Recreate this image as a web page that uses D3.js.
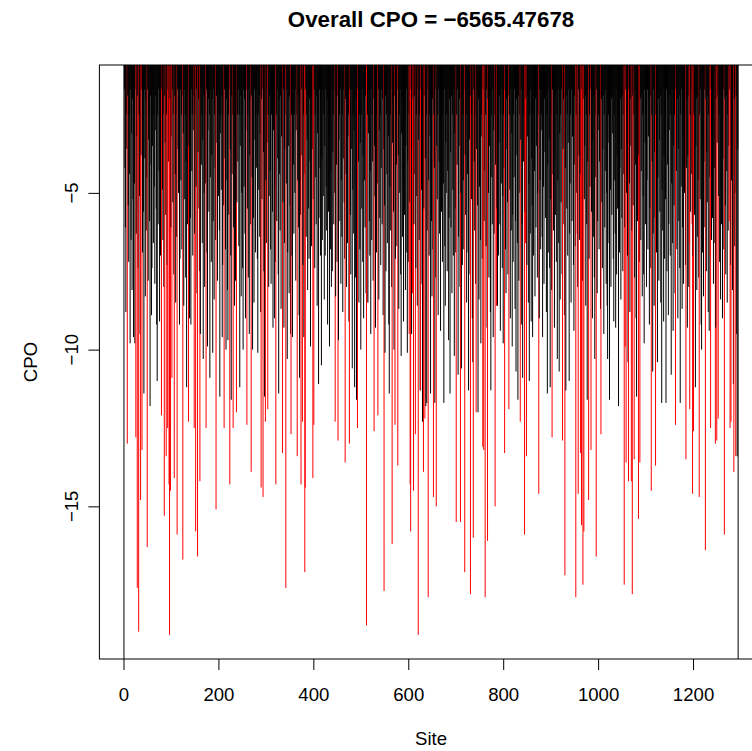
<!DOCTYPE html>
<html>
<head>
<meta charset="utf-8">
<script src="https://cdn.jsdelivr.net/npm/d3@7"></script>
<style>
body { margin: 0; background: #fff; }
text { font-family: "Liberation Sans", Arial, sans-serif; }
</style>
</head>
<body>
<div id="chart"></div>
<script>
// per-site log CPO, site 1 .. 1295 (20 sites per row)
var cpo = [
-Infinity,-1.7,-4.2,-6.1,-8.8,-2.5,-3.6,-13.0,-1.9,-5.4,-7.2,-2.5,-4.4,-9.8,-1.7,-6.5,-3.1,-8.1,-2.0,-5.2,
-9.6,-2.5,-4.7,-9.8,-1.7,-12.8,-6.3,-3.2,-17.6,-1.9,-7.4,-19.0,-2.5,-5.1,-9.5,-14.8,-3.8,-1.7,-13.2,-6.9,
-2.5,-5.6,-11.4,-1.7,-3.9,-8.3,-2.0,-6.2,-4.5,-16.3,-1.7,-7.8,-3.3,-2.5,-5.9,-11.8,-1.9,-4.1,-8.9,-7.4,
-3.5,-1.7,-6.6,-2.5,-4.8,-7.9,-1.9,-3.0,-5.5,-9.2,-11.0,-2.5,-6.0,-1.7,-4.3,-9.1,-2.0,-7.0,-3.7,-12.1,
-1.7,-4.9,-6.5,-2.5,-8.0,-15.3,-1.9,-3.4,-5.7,-13.4,-2.5,-7.3,-12.5,-1.7,-4.0,-14.3,-19.1,-2.0,-14.5,-6.1,
-3.2,-10.9,-1.7,-5.3,-2.5,-7.6,-14.1,-1.9,-4.4,-8.5,-2.5,-6.4,-15.9,-1.7,-3.6,-5.0,-2.0,-9.2,-7.1,-1.7,
-4.6,-2.5,-6.8,-1.9,-16.7,-3.1,-8.6,-1.7,-5.2,-2.5,-7.7,-4.0,-11.2,-1.7,-6.0,-2.0,-12.3,-3.5,-9.0,-2.5,
-5.8,-9.2,-1.7,-4.3,-2.5,-7.0,-3.0,-1.9,-12.5,-6.3,-2.5,-15.8,-4.8,-1.7,-8.2,-16.6,-3.7,-2.0,-5.5,-7.5,
-14.2,-9.5,-1.7,-4.1,-2.5,-6.6,-3.3,-10.3,-1.9,-5.0,-8.0,-2.5,-4.7,-12.5,-1.7,-6.9,-9.9,-3.0,-2.0,-5.6,
-2.5,-10.9,-4.5,-1.7,-7.2,-3.8,-2.0,-10.1,-5.9,-1.7,-8.4,-2.5,-4.2,-6.5,-15.1,-1.9,-3.4,-7.8,-2.5,-5.1,
-1.7,-6.2,-11.5,-3.1,-2.5,-4.9,-1.9,-9.6,-7.3,-2.5,-5.4,-12.5,-1.7,-3.9,-6.8,-10.0,-2.0,-4.6,-8.1,-9.7,
-2.5,-5.7,-1.7,-14.3,-3.6,-7.0,-11.6,-1.9,-4.4,-2.5,-12.5,-6.1,-1.7,-8.6,-3.2,-7.8,-2.0,-12.0,-5.3,-2.5,
-4.0,-1.7,-6.7,-2.5,-11.2,-3.5,-1.9,-8.3,-5.0,-2.5,-7.4,-10.0,-1.7,-4.8,-2.0,-6.3,-9.0,-3.0,-1.7,-12.4,
-5.5,-2.5,-7.7,-1.7,-9.5,-3.8,-2.0,-6.0,-13.9,-1.9,-4.5,-10.0,-2.5,-5.8,-8.5,-1.7,-3.3,-6.9,-2.5,-4.2,
-1.7,-7.1,-10.1,-2.5,-4.9,-1.9,-6.4,-3.1,-8.8,-14.4,-2.0,-5.2,-1.7,-14.7,-3.7,-7.5,-11.5,-2.5,-12.3,-4.6,
-6.6,-1.7,-3.4,-11.9,-2.5,-8.0,-5.1,-1.9,-4.3,-6.8,-7.9,-2.5,-1.7,-5.6,-9.3,-3.0,-2.0,-9.0,-4.8,-7.2,
-14.3,-2.5,-5.9,-1.7,-3.9,-7.6,-11.4,-2.0,-4.4,-6.2,-1.9,-8.7,-3.2,-2.5,-13.3,-5.3,-1.7,-9.3,-6.6,-3.6,
-2.5,-17.6,-4.7,-1.7,-10.3,-6.9,-2.0,-3.5,-8.2,-1.9,-5.4,-9.5,-12.7,-2.5,-7.0,-9.6,-1.7,-4.1,-6.3,-2.5,
-5.0,-1.7,-7.8,-3.0,-2.5,-13.4,-4.6,-1.9,-6.1,-8.9,-10.9,-2.0,-5.7,-14.3,-1.7,-3.8,-12.3,-7.3,-2.5,-9.6,
-4.4,-17.1,-14.4,-1.7,-6.4,-2.5,-3.3,-8.1,-1.9,-5.5,-7.1,-2.0,-4.0,-9.9,-1.7,-6.7,-2.5,-3.6,-14.1,-5.2,
-12.4,-1.7,-7.4,-2.5,-4.5,-6.0,-1.9,-8.6,-3.1,-2.5,-11.1,-5.8,-1.7,-4.2,-7.0,-2.0,-10.5,-3.9,-6.5,-1.7,
-5.1,-2.5,-8.4,-3.5,-7.0,-1.7,-4.8,-6.2,-2.0,-9.2,-1.9,-5.6,-3.0,-9.9,-2.5,-6.8,-4.3,-8.0,-1.7,-7.5,
-3.7,-2.5,-6.0,-1.7,-5.0,-12.3,-8.3,-2.0,-4.1,-7.2,-1.9,-12.9,-9.7,-3.3,-2.5,-5.9,-1.7,-7.9,-4.6,-6.4,
-2.5,-8.8,-3.9,-1.7,-5.3,-7.1,-13.6,-2.0,-4.4,-8.0,-1.9,-6.6,-3.2,-2.5,-9.1,-13.0,-1.7,-5.7,-7.6,-3.6,
-1.7,-10.6,-4.9,-2.5,-6.3,-3.0,-11.2,-1.9,-7.7,-2.0,-11.6,-5.2,-12.5,-1.7,-4.0,-8.5,-2.5,-6.8,-3.4,-10.0,
-2.5,-5.5,-1.7,-7.2,-3.8,-9.0,-2.0,-4.6,-6.1,-1.9,-8.2,-18.8,-8.5,-2.5,-8.5,-3.1,-1.7,-5.9,-7.0,-4.3,
-9.5,-1.7,-6.5,-2.5,-4.0,-7.8,-2.0,-12.6,-3.5,-5.1,-9.3,-1.9,-6.9,-2.5,-4.7,-12.1,-1.7,-8.4,-3.0,-5.8,
-2.5,-7.3,-4.2,-1.7,-6.0,-2.0,-8.9,-3.6,-17.7,-5.4,-10.1,-1.9,-7.5,-2.5,-4.4,-6.6,-1.7,-3.2,-9.2,-11.4,
-4.8,-2.5,-6.2,-1.7,-8.0,-16.2,-3.4,-2.0,-5.6,-10.0,-1.9,-12.4,-7.1,-2.5,-4.1,-6.7,-1.7,-13.7,-3.8,-8.7,
-2.5,-5.0,-1.7,-7.6,-10.2,-3.1,-2.0,-6.4,-4.5,-9.1,-1.9,-5.7,-2.5,-8.1,-3.5,-1.7,-6.9,-10.1,-4.0,-7.2,
-2.5,-9.5,-5.3,-14.3,-15.8,-1.7,-9.5,-3.6,-8.2,-2.0,-14.5,-6.0,-1.9,-4.4,-12.7,-7.4,-2.5,-5.1,-8.6,-1.7,
-19.1,-3.3,-6.5,-2.5,-11.3,-11.3,-1.7,-4.9,-7.9,-12.3,-2.0,-13.9,-5.5,-1.9,-12.2,-3.9,-11.8,-2.5,-11.7,-6.2,
-1.7,-17.9,-4.6,-7.0,-2.5,-3.2,-11.4,-1.9,-5.9,-8.3,-2.0,-6.8,-14.7,-2.5,-4.2,-11.7,-1.7,-7.7,-15.0,-3.5,
-5.2,-2.5,-8.9,-1.7,-4.0,-6.3,-2.0,-9.4,-3.0,-5.6,-1.9,-7.2,-2.5,-4.7,-11.7,-1.7,-6.7,-8.6,-3.4,-5.0,
-2.5,-7.5,-4.3,-1.7,-9.7,-5.8,-2.0,-11.4,-3.7,-6.1,-1.9,-8.2,-2.5,-4.9,-7.0,-1.7,-10.2,-3.1,-5.5,-6.9,
-15.5,-2.5,-4.1,-1.7,-10.8,-6.4,-3.5,-2.0,-8.0,-15.5,-5.0,-10.6,-1.9,-7.3,-2.5,-4.6,-6.8,-1.7,-17.1,-3.8,
-5.7,-2.5,-8.5,-1.7,-4.4,-6.9,-11.3,-2.0,-3.3,-7.6,-17.8,-1.9,-5.2,-2.5,-9.0,-10.4,-16.0,-1.7,-4.0,-6.2,
-2.5,-7.9,-12.0,-3.6,-1.7,-5.4,-12.0,-2.0,-8.4,-4.8,-1.9,-6.5,-9.8,-2.5,-3.2,-7.1,-13.1,-1.7,-13.2,-5.9,
-4.3,-17.9,-2.5,-6.7,-1.7,-9.3,-16.1,-2.0,-5.0,-7.7,-3.5,-1.9,-8.8,-11.3,-2.5,-4.5,-6.0,-1.7,-9.6,-3.0,
-6.3,-2.5,-15.0,-4.1,-1.7,-8.6,-5.5,-8.6,-2.0,-7.0,-3.4,-1.9,-6.0,-9.4,-2.5,-4.7,-1.7,-7.4,-5.1,-9.8,
-2.5,-4.2,-13.3,-1.7,-6.8,-8.2,-2.0,-3.6,-5.3,-7.6,-1.9,-11.9,-2.5,-4.9,-9.0,-1.7,-6.2,-3.1,-9.9,-5.7,
-7.2,-2.5,-4.5,-1.7,-8.7,-5.9,-10.7,-2.0,-3.8,-6.6,-11.6,-1.9,-7.8,-2.5,-5.0,-12.3,-3.3,-1.7,-9.2,-6.0,
-10.9,-2.5,-4.0,-1.7,-15.9,-5.6,-6.6,-2.0,-13.4,-7.3,-3.2,-1.9,-8.5,-4.7,-11.0,-2.5,-6.3,-1.7,-9.1,-3.9,
-5.4,-9.6,-2.5,-7.0,-1.7,-4.3,-8.3,-2.0,-6.1,-3.5,-1.9,-7.7,-5.0,-2.5,-14.6,-9.0,-1.7,-4.6,-6.8,-3.0,
-2.5,-6.4,-9.6,-1.7,-4.8,-7.9,-2.0,-3.7,-5.8,-1.9,-8.8,-2.5,-11.4,-4.1,-6.9,-1.7,-3.3,-7.4,-11.2,-5.2,
-2.5,-8.1,-12.8,-1.7,-4.4,-6.2,-2.0,-9.3,-3.9,-5.7,-1.9,-7.2,-2.5,-10.3,-4.6,-1.7,-6.6,-10.7,-3.1,-8.4,
-2.5,-5.3,-1.7,-7.6,-12.9,-3.6,-2.0,-6.0,-8.9,-17.2,-4.2,-11.3,-1.9,-5.5,-2.5,-7.0,-3.4,-1.7,-11.0,-6.3,
-4.7,-2.5,-8.5,-1.7,-5.9,-3.2,-2.0,-7.3,-9.4,-1.9,-4.1,-6.7,-17.9,-2.5,-5.0,-6.3,-8.0,-14.6,-1.7,-3.8,
-6.5,-2.5,-13.3,-4.4,-15.6,-1.7,-7.8,-17.5,-2.0,-15.8,-5.2,-3.5,-1.9,-8.6,-2.5,-6.0,-11.6,-4.0,-1.7,-14.8,
-7.1,-2.5,-4.8,-1.7,-13.2,-5.6,-2.0,-9.0,-3.3,-6.4,-1.9,-7.7,-10.3,-2.5,-4.5,-16.6,-1.7,-8.2,-5.9,-3.0,
-2.5,-6.8,-4.0,-1.7,-8.7,-12.7,-2.0,-5.3,-7.4,-3.6,-1.9,-9.5,-2.5,-6.1,-4.3,-1.7,-7.9,-5.0,-8.6,-10.3,
-3.4,-2.5,-6.6,-11.6,-1.7,-4.9,-8.0,-2.0,-5.7,-3.1,-1.9,-7.1,-9.1,-2.5,-4.6,-6.3,-9.3,-1.7,-7.6,-3.8,
-5.5,-2.5,-11.8,-1.7,-6.9,-4.2,-2.0,-8.4,-3.6,-5.8,-1.9,-7.5,-2.5,-4.4,-17.5,-6.1,-9.9,-1.7,-13.6,-5.0,
-2.5,-7.0,-10.4,-14.2,-1.7,-4.7,-8.8,-2.0,-3.5,-14.2,-6.2,-17.8,-1.9,-5.4,-2.5,-13.5,-7.7,-1.7,-4.1,-9.0,
-11.5,-2.5,-5.9,-1.7,-15.4,-3.8,-7.2,-13.6,-2.0,-6.5,-4.3,-1.9,-8.3,-2.5,-5.1,-7.6,-9.8,-1.7,-3.4,-6.0,
-2.5,-8.0,-4.6,-1.7,-6.8,-3.2,-2.0,-9.2,-5.5,-1.9,-7.4,-14.5,-2.5,-4.0,-10.7,-6.3,-1.7,-8.6,-3.7,-5.8,
-13.7,-2.5,-6.9,-1.7,-10.4,-4.5,-2.0,-7.8,-3.3,-5.6,-1.9,-8.5,-2.5,-11.7,-4.9,-6.2,-1.7,-9.1,-3.8,-7.1,
-2.5,-5.2,-11.7,-1.7,-7.5,-4.1,-2.0,-8.9,-6.0,-3.0,-1.9,-7.0,-2.5,-10.8,-4.7,-1.7,-6.6,-9.4,-3.5,-5.4,
-2.5,-8.2,-12.4,-1.7,-4.3,-6.8,-2.0,-9.0,-3.6,-5.9,-1.9,-7.4,-11.7,-2.5,-4.8,-1.7,-8.7,-6.1,-3.2,-7.9,
-2.5,-5.0,-1.7,-7.3,-13.5,-4.2,-2.0,-9.3,-3.8,-1.9,-8.0,-6.6,-11.9,-2.5,-5.6,-1.7,-4.4,-6.0,-14.6,-7.0,
-12.6,-2.5,-5.7,-1.7,-11.2,-3.5,-2.0,-8.1,-6.4,-1.9,-4.6,-7.7,-14.7,-2.5,-5.2,-1.7,-9.2,-10.0,-3.3,-6.9,
-2.5,-8.3,-4.0,-1.7,-6.1,-16.4,-2.0,-7.5,-3.7,-5.3,-1.9,-8.8,-2.5,-9.4,-4.5,-7.0,-12.5,-1.7,-6.5,-3.1,
-5.8,-2.5,-7.9,-1.7,-4.2,-6.6,-13.0,-9.3,-2.0,-12.9,-3.4,-1.9,-12.2,-5.1,-2.5,-7.2,-1.7,-8.4,-4.8,-6.0,
-2.5,-9.0,-3.9,-1.7,-6.8,-15.9,-2.0,-5.4,-7.6,-1.9,-4.3,-8.5,-2.5,-6.2,-3.5,-5.9,-1.7,-12.5,-7.3,-12.3,
-4.6,-2.5,-8.1,-1.7,-11.1,-13.9,-2.0,-6.7,-5.0,-13.4,-1.9,-9.5,-13.4,-3.6,-Infinity
];

// sites drawn in red
var redSites = [8,26,29,32,36,39,50,80,86,90,93,96,97,99,102,107,113,125,137,149,152,156,161,174,195,
  212,224,231,238,260,269,290,294,299,304,321,335,342,353,366,374,377,382,383,399,401,446,452,467,476,
  493,512,513,528,536,549,566,572,578,602,604,605,609,611,615,621,626,632,635,642,653,659,701,710,719,
  731,737,743,757,759,762,767,783,786,803,812,836,845,847,849,875,903,925,930,953,956,958,963,965,968,
  970,980,985,996,1006,1055,1057,1059,1064,1070,1072,1076,1085,1088,1112,1121,1163,1185,1192,1193,1198,
  1199,1201,1213,1226,1236,1237,1247,1250,1253,1266,1276,1278,1280,1286,1290];

var xTicks = [0, 200, 400, 600, 800, 1000, 1200];
var yTicks = [-5, -10, -15];
var titleText = 'Overall CPO = \u22126565.47678';
var xLabel = 'Site';
var yLabel = 'CPO';

// plot region (R style, x axis runs past the right edge of the picture)
var width = 752, height = 751;
var plotL = 99.4, plotR = 762.7, plotT = 65, plotB = 659;

var xScale = d3.scaleLinear()
    .domain([-50.76, 1346.76])
    .range([plotL, plotR]);
var yScale = d3.scaleLinear()
    .domain([-19.87, -0.92])
    .range([plotB, plotT]);

var redSet = new Set(redSites);
var minus = function(d){ return String(d).replace('-', '\u2212'); };

var svg = d3.select('#chart').append('svg')
    .attr('width', width)
    .attr('height', height);

svg.append('clipPath').attr('id', 'plotClip')
  .append('rect')
    .attr('x', plotL).attr('y', plotT)
    .attr('width', plotR - plotL).attr('height', plotB - plotT);

// histogram-like spikes from 0 down to the value
var spikes = svg.append('g').attr('clip-path', 'url(#plotClip)');
spikes.selectAll('line')
    .data(cpo)
    .enter()
    .append('line')
        .attr('x1', function(d, i){ return xScale(i + 1); })
        .attr('x2', function(d, i){ return xScale(i + 1); })
        .attr('y1', yScale(0))
        .attr('y2', function(d){
            // -Inf runs to the bottom of the plot
            return isFinite(d) ? yScale(d) : plotB + 5;
        })
        .attr('stroke', function(d, i){ return redSet.has(i + 1) ? '#ff0000' : '#000000'; })
        .attr('stroke-width', 1);

// box
svg.append('rect')
    .attr('x', plotL).attr('y', plotT)
    .attr('width', plotR - plotL).attr('height', plotB - plotT)
    .attr('fill', 'none')
    .attr('stroke', '#000');

// x axis
var xAxis = d3.axisBottom(xScale)
    .tickValues(xTicks)
    .tickFormat(d3.format('d'))
    .tickSize(11)
    .tickPadding(18);
var gx = svg.append('g')
    .attr('transform', 'translate(0,' + plotB + ')')
    .call(xAxis);
gx.select('.domain').remove();
gx.selectAll('text').style('font-size', '18.6px').attr('fill', '#000');

// y axis (labels parallel to the axis)
var yAxis = d3.axisLeft(yScale)
    .tickValues(yTicks)
    .tickSize(11)
    .tickFormat('');
var gy = svg.append('g')
    .attr('transform', 'translate(' + plotL + ',0)')
    .call(yAxis);
gy.select('.domain').remove();

svg.append('g').selectAll('text')
    .data(yTicks)
    .enter()
    .append('text')
        .attr('transform', function(d){ return 'translate(77.5,' + yScale(d) + ') rotate(-90)'; })
        .attr('text-anchor', 'middle')
        .style('font-size', '18.6px')
        .text(minus);

// titles
svg.append('text')
    .attr('x', (plotL + plotR) / 2).attr('y', 27)
    .attr('text-anchor', 'middle')
    .style('font-size', '22.3px').style('font-weight', 'bold')
    .text(titleText);
svg.append('text')
    .attr('x', (plotL + plotR) / 2).attr('y', 745)
    .attr('text-anchor', 'middle')
    .style('font-size', '18.6px')
    .text(xLabel);
svg.append('text')
    .attr('transform', 'translate(37,' + (plotT + plotB) / 2 + ') rotate(-90)')
    .attr('text-anchor', 'middle')
    .style('font-size', '18.6px')
    .text(yLabel);
</script>
</body>
</html>
